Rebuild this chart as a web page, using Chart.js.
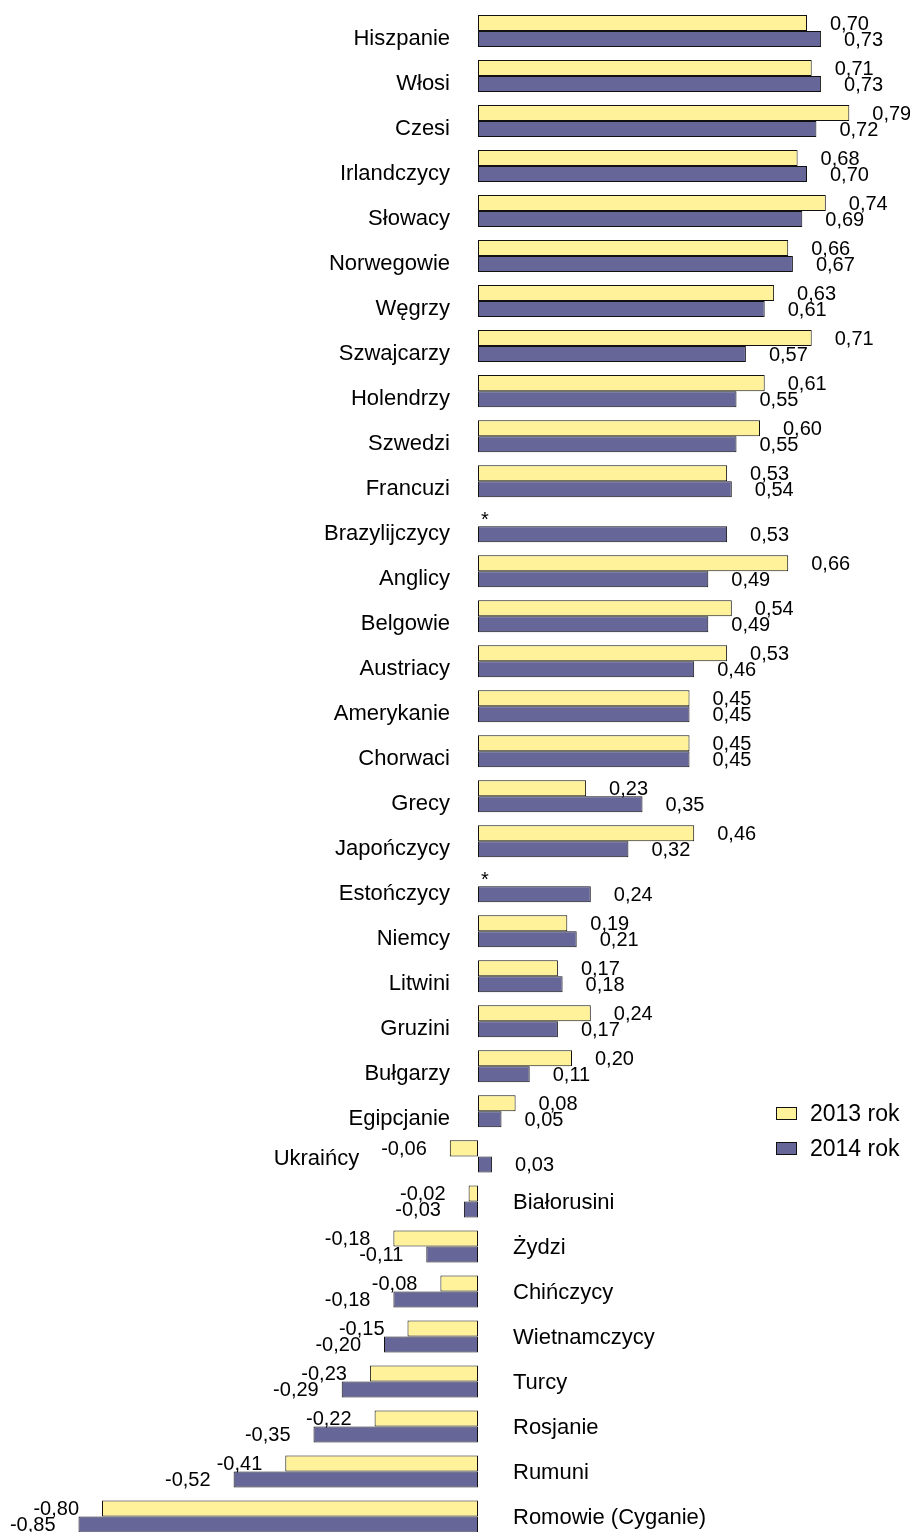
<!DOCTYPE html>
<html>
<head>
<meta charset="utf-8">
<script src="https://cdn.jsdelivr.net/npm/chart.js@4/dist/chart.umd.min.js"></script>
<style>
  html, body { margin: 0; padding: 0; background: #fff; overflow: hidden; }
  canvas { display: block; }
</style>
</head>
<body>
<canvas id="chart" width="910" height="1539"></canvas>
<script>
// data
const categories = [
  'Hiszpanie', 'Włosi', 'Czesi', 'Irlandczycy', 'Słowacy', 'Norwegowie', 'Węgrzy',
  'Szwajcarzy', 'Holendrzy', 'Szwedzi', 'Francuzi', 'Brazylijczycy', 'Anglicy',
  'Belgowie', 'Austriacy', 'Amerykanie', 'Chorwaci', 'Grecy', 'Japończycy',
  'Estończycy', 'Niemcy', 'Litwini', 'Gruzini', 'Bułgarzy', 'Egipcjanie',
  'Ukraińcy', 'Białorusini', 'Żydzi', 'Chińczycy', 'Wietnamczycy', 'Turcy',
  'Rosjanie', 'Rumuni', 'Romowie (Cyganie)'
];
const values2013 = [
  0.70, 0.71, 0.79, 0.68, 0.74, 0.66, 0.63, 0.71, 0.61, 0.60, 0.53, null, 0.66,
  0.54, 0.53, 0.45, 0.45, 0.23, 0.46, null, 0.19, 0.17, 0.24, 0.20, 0.08,
  -0.06, -0.02, -0.18, -0.08, -0.15, -0.23, -0.22, -0.41, -0.80
];
const values2014 = [
  0.73, 0.73, 0.72, 0.70, 0.69, 0.67, 0.61, 0.57, 0.55, 0.55, 0.54, 0.53, 0.49,
  0.49, 0.46, 0.45, 0.45, 0.35, 0.32, 0.24, 0.21, 0.18, 0.17, 0.11, 0.05,
  0.03, -0.03, -0.11, -0.18, -0.20, -0.29, -0.35, -0.52, -0.85
];
const seriesLabels = ['2013 rok', '2014 rok'];
const seriesColors = ['#FFF29A', '#666699'];

const FONT = '"Liberation Sans", Arial, sans-serif';
const fmt = (v) => v.toFixed(2).replace('.', ',');

// value labels, category names and the legend, all placed from the scales
const labelsPlugin = {
  id: 'labels',
  afterDatasetsDraw(chart) {
    const ctx = chart.ctx;
    const x = chart.scales.x;
    const y = chart.scales.y;
    const zero = x.getPixelForValue(0);
    ctx.save();
    ctx.fillStyle = '#000';
    ctx.textBaseline = 'alphabetic';

    // values next to bars
    ctx.font = '20px ' + FONT;
    chart.data.datasets.forEach((ds, di) => {
      ds.data.forEach((v, i) => {
        const c = y.getPixelForValue(i) + (di === 0 ? -8 : 8);
        if (v === null) {
          ctx.textAlign = 'center';
          ctx.fillText('*', zero + 7, y.getPixelForValue(i));
          return;
        }
        const end = x.getPixelForValue(v);
        if (v >= 0) {
          ctx.textAlign = 'left';
          ctx.fillText(fmt(v), end + 23, c + 7);
        } else {
          ctx.textAlign = 'right';
          ctx.fillText(fmt(v), end - 23, c + 7);
        }
      });
    });

    // category names
    categories.forEach((name, i) => {
      const c = y.getPixelForValue(i);
      const a = values2013[i], b = values2014[i];
      if (b < 0 && (a === null || a < 0)) {
        ctx.font = '22px ' + FONT;
        ctx.textAlign = 'left';
        ctx.fillText(name, zero + 35, c + 8);
      } else if (a !== null && a < 0) {
        ctx.font = '20px ' + FONT;
        const w = ctx.measureText(fmt(a)).width;
        ctx.font = '22px ' + FONT;
        ctx.textAlign = 'right';
        ctx.fillText(name, x.getPixelForValue(a) - 23 - w - 22, c + 9);
      } else {
        ctx.font = '22px ' + FONT;
        ctx.textAlign = 'right';
        ctx.fillText(name, zero - 28, c + 14);
      }
    });

    // legend
    ctx.font = '23px ' + FONT;
    ctx.textAlign = 'left';
    seriesLabels.forEach((lab, k) => {
      const cy = 1113 + k * 35;
      ctx.fillStyle = seriesColors[k];
      ctx.fillRect(776, cy - 6, 20, 12);
      ctx.strokeStyle = '#111';
      ctx.lineWidth = 1;
      ctx.strokeRect(776.5, cy - 5.5, 20, 12);
      ctx.fillStyle = '#000';
      ctx.fillText(lab, 810, cy + 8);
    });
    ctx.restore();
  }
};

new Chart(document.getElementById('chart'), {
  type: 'bar',
  data: {
    labels: categories,
    datasets: [
      {
        label: seriesLabels[0],
        data: values2013,
        backgroundColor: seriesColors[0],
        borderColor: '#111',
        borderWidth: 1,
        borderSkipped: false,
        categoryPercentage: 32 / 45,
        barPercentage: 1
      },
      {
        label: seriesLabels[1],
        data: values2014,
        backgroundColor: seriesColors[1],
        borderColor: '#111',
        borderWidth: 1,
        borderSkipped: false,
        categoryPercentage: 32 / 45,
        barPercentage: 1
      }
    ]
  },
  options: {
    indexAxis: 'y',
    responsive: false,
    animation: false,
    layout: { padding: { top: 8.5, left: 0, right: 0, bottom: 0 } },
    scales: {
      x: { display: false, min: -478 / 470, max: 432 / 470 },
      y: { display: false }
    },
    plugins: {
      legend: { display: false },
      tooltip: { enabled: false }
    }
  },
  plugins: [labelsPlugin]
});
</script>
</body>
</html>
